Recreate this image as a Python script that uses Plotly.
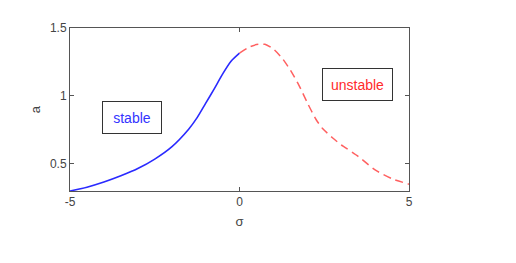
import plotly.graph_objects as go

stable_sigma = [-5.0, -4.5, -4.0, -3.5, -3.0, -2.5, -2.0, -1.5, -1.25, -1.0, -0.75, -0.5, -0.25, 0.0]
stable_a = [0.300, 0.328, 0.366, 0.412, 0.465, 0.535, 0.625, 0.755, 0.840, 0.945, 1.050, 1.160, 1.255, 1.315]

unstable_sigma = [0.0, 0.25, 0.5, 0.75, 1.0, 1.25, 1.5, 1.75, 2.0, 2.25, 2.45, 2.75, 3.0, 3.5, 4.0, 4.5, 5.0]
unstable_a = [1.315, 1.355, 1.378, 1.380, 1.345, 1.280, 1.190, 1.080, 0.950, 0.830, 0.760, 0.690, 0.640, 0.555, 0.455, 0.390, 0.350]

x_ticks = [-5, 0, 5]
y_ticks = [0.5, 1, 1.5]

FONT = "Liberation Sans, Arial"

fig = go.Figure()
fig.add_trace(go.Scatter(x=stable_sigma, y=stable_a, mode="lines",
                         line=dict(color="#2a2aff", width=1.6, shape="spline", smoothing=0.8),
                         showlegend=False))
fig.add_trace(go.Scatter(x=unstable_sigma, y=unstable_a, mode="lines",
                         line=dict(color="#ff6060", width=1.5, dash="8px,5px", shape="spline", smoothing=0.6),
                         showlegend=False))

axcommon = dict(showline=True, linecolor="#555555", linewidth=1, mirror="ticks", ticks="inside",
                ticklen=4, tickcolor="#555555", showgrid=False, zeroline=False,
                tickfont=dict(family=FONT, size=12, color="#444444"))
fig.update_xaxes(range=[-5, 5], tickvals=x_ticks, ticktext=[str(v) for v in x_ticks],
                 title=dict(text="σ", font=dict(family=FONT, size=13, color="#444444"), standoff=8),
                 **axcommon)
fig.update_yaxes(range=[0.3, 1.5], tickvals=y_ticks, ticktext=["0.5", "1", "1.5"],
                 title=dict(text="a", font=dict(family=FONT, size=13, color="#444444"), standoff=6),
                 **axcommon)

fig.add_annotation(x=-3.16, y=0.843, text="stable", showarrow=False,
                   font=dict(family=FONT, size=14, color="#3333ff"), width=46, height=19,
                   bordercolor="#333333", borderwidth=1, borderpad=6, bgcolor="white")
fig.add_annotation(x=3.47, y=1.086, text="unstable", showarrow=False,
                   font=dict(family=FONT, size=14, color="#ff2a2a"), width=57, height=19,
                   bordercolor="#333333", borderwidth=1, borderpad=6, bgcolor="white")

fig.update_layout(width=516, height=263, margin=dict(l=62, r=115, t=20, b=80),
                  plot_bgcolor="white", paper_bgcolor="white")
fig.write_html("out.html")
